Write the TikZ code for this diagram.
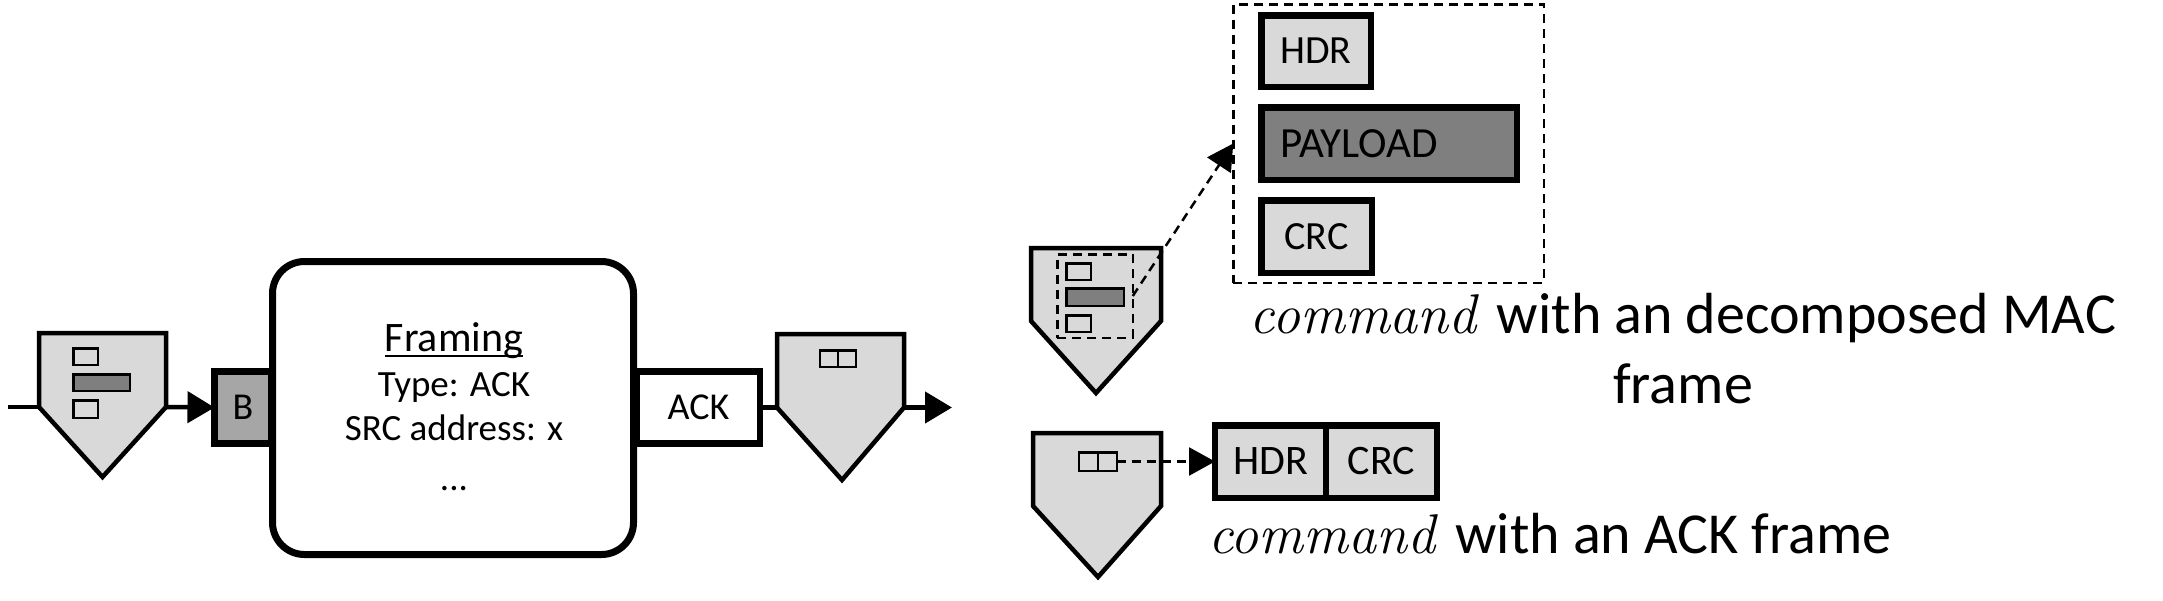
\documentclass[tikz,border=0pt]{standalone}
\usepackage{fontspec}
\usetikzlibrary{arrows.meta}
\newfontfamily\cbfont{Carlito}
\definecolor{lightg}{HTML}{D9D9D9}
\definecolor{midg}{HTML}{A6A6A6}
\definecolor{darkg}{HTML}{7F7F7F}
\newcommand{\sz}[1]{\fontsize{#1}{44.5}\selectfont}
\newcommand{\cmdword}{{\rmfamily\itshape\fontsize{56}{70}\selectfont command}\hspace{7pt} }
\tikzset{
  pent/.style={draw=black,fill=lightg,line width=4.5pt,line join=miter},
  bigbox/.style={draw=black,line width=6.5pt,outer sep=0pt,inner sep=0pt,font=\cbfont\sz{38},text=black},
  tinybox/.style={draw=black,line width=2.5pt,outer sep=0pt,inner sep=0pt},
  dashbox/.style={draw=black,line width=2.5pt,dash pattern=on 9pt off 6pt,outer sep=0pt,inner sep=0pt},
  flow/.style={line width=4.5pt,draw=black},
  flowtip/.style={-{Triangle[length=27pt,width=31pt]}},
  dasharrow/.style={line width=2.5pt,dash pattern=on 9pt off 6pt,draw=black,-{Triangle[length=26pt,width=28pt,sep=0pt]}},
  captxt/.style={font=\cbfont\fontsize{58}{70}\selectfont,inner sep=0pt,outer sep=0pt},
}
\newcommand{\pentagon}[7]{%
  \coordinate (#1-l) at (#2,#5);
  \coordinate (#1-r) at (#3,#5);
  \draw[pent] (#2,#4) -- (#3,#4) -- (#1-r) -- (#6,#7) -- (#1-l) -- cycle;}
\begin{document}
\begin{tikzpicture}[x=1pt,y=-1pt]
\useasboundingbox (0,0) rectangle (2163,600);
% left chain
\coordinate (cin) at (8,407);
\coordinate (cout) at (952,407.5);
\node[bigbox,fill=midg,minimum width=57pt,minimum height=72pt] (bbox) at (243,407.5) {B};
\node[bigbox,fill=white,minimum width=123pt,minimum height=72pt] (ackbox) at (698.5,407.5) {ACK};
\node[bigbox,fill=white,line width=7pt,rounded corners=32pt,minimum width=361pt,minimum height=293pt] (framing) at (453,408) {};
\node[inner sep=0pt,font=\cbfont\sz{37},anchor=base,align=center] (framingtxt) at (454,490) {{\sz{42}\vtop{\hbox{\raisebox{0pt}[\height][0pt]{Framing}}\kern3pt\hrule height 2.5pt}}\\Type: ACK\\SRC address: x\\[5pt]...};
\pentagon{pa}{39}{166}{333}{407}{102.5}{477}
\pentagon{pb}{777}{904}{334}{407.5}{842}{480}
\draw[flow] (cin) -- (pa-l);
\draw[flow,flowtip] (pa-r) -- (bbox.west);
\draw[flow] (ackbox.east) -- (pb-l);
\draw[flow,flowtip] (pb-r) -- (cout);
\node[tinybox,fill=lightg,minimum width=24.5pt,minimum height=16.5pt] (pa1) at (85.5,356.5) {};
\node[tinybox,fill=darkg,minimum width=56.5pt,minimum height=16.5pt] (pa2) at (101.5,382.5) {};
\node[tinybox,fill=lightg,minimum width=24.5pt,minimum height=17.5pt] (pa3) at (85.5,409) {};
\node[tinybox,fill=lightg,minimum width=17.75pt,minimum height=16.5pt] (pb1) at (829.1,358.5) {};
\node[tinybox,fill=lightg,minimum width=17.75pt,minimum height=16.5pt] (pb2) at (846.9,358.5) {};
% upper right
\pentagon{pc}{1031}{1161}{248}{321}{1096}{393}
\node[tinybox,fill=lightg,minimum width=24.5pt,minimum height=16.5pt] (pc1) at (1078.5,271.5) {};
\node[tinybox,fill=darkg,minimum width=57.5pt,minimum height=17.5pt] (pc2) at (1095,297) {};
\node[tinybox,fill=lightg,minimum width=24.5pt,minimum height=16.5pt] (pc3) at (1078.5,323.5) {};
\node[dashbox,minimum width=75.5pt,minimum height=83.5pt] (pcsel) at (1095,296) {};
\node[dashbox,minimum width=310.5pt,minimum height=278.5pt] (outer) at (1388.5,143.5) {};
\node[bigbox,font=\cbfont\sz{40},fill=lightg,minimum width=109.5pt,minimum height=71.5pt] (hdr) at (1316,51) {HDR};
\node[bigbox,font=\cbfont\sz{43},fill=darkg,minimum width=255.5pt,minimum height=72.5pt,text width=218pt,align=left] (payload) at (1389,143.5) {PAYLOAD};
\node[bigbox,font=\cbfont\sz{40},fill=lightg,minimum width=110.5pt,minimum height=72.5pt] (crc) at (1316.5,236.5) {CRC};
\draw[dasharrow] (pcsel.east) -- (outer.west);
\node[captxt,anchor=base,align=center] (capa) at (1683,403) {\cmdword with an decomposed MAC\\frame};
% lower right
\pentagon{pd}{1033}{1161}{433}{506}{1098}{577}
\node[tinybox,fill=lightg,minimum width=18.75pt,minimum height=18.5pt] (pd1) at (1088.6,461.5) {};
\node[tinybox,fill=lightg,minimum width=18.75pt,minimum height=18.5pt] (pd2) at (1107.4,461.5) {};
\node[bigbox,font=\cbfont\sz{42},fill=lightg,minimum width=111pt,minimum height=72.5pt] (chdr) at (1270.5,461.5) {HDR};
\node[bigbox,font=\cbfont\sz{42},fill=lightg,minimum width=111pt,minimum height=72.5pt] (ccrc) at (1381.5,461.5) {CRC};
\draw[dasharrow] (pd2.east) -- (chdr.west);
\node[captxt,anchor=base west] (capb) at (1208.5,553) {\cmdword with an ACK frame};
\end{tikzpicture}
\end{document}
